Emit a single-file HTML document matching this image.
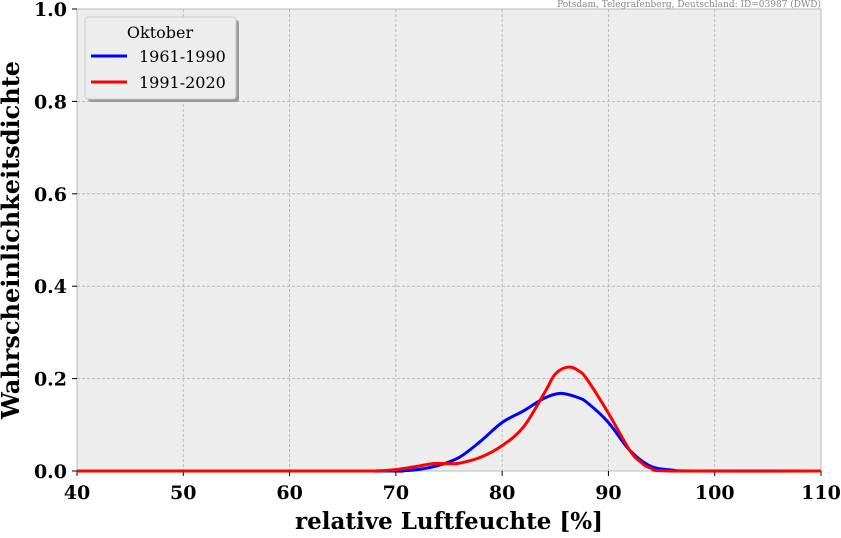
<!DOCTYPE html>
<html><head><meta charset="utf-8"><style>
body{margin:0;background:#fff;}
svg{font-family:"DejaVu Serif","Liberation Serif",serif;}
</style></head><body>
<svg id="chart" width="841" height="533">
<rect x="77" y="9" width="744" height="462" fill="#ededed" stroke="#bbb"/>
<g id="grid"></g><g id="ticks"></g><g id="series"></g>
<text x="821" y="7" font-size="9" fill="#888" text-anchor="end">Potsdam, Telegrafenberg, Deutschland: ID=03987 (DWD)</text>
<text x="449" y="529" font-size="23" font-weight="bold" text-anchor="middle">relative Luftfeuchte [%]</text>
<text transform="translate(19,240) rotate(-90)" font-size="24" font-weight="bold" text-anchor="middle">Wahrscheinlichkeitsdichte</text>
<g>
<rect x="88" y="20" width="151" height="82" rx="3" fill="#999"/>
<rect x="85" y="17" width="151" height="82" rx="3" fill="#ededed" stroke="#ccc"/>
<text x="160" y="38" font-size="16" text-anchor="middle">Oktober</text>
<line x1="91" y1="56" x2="127" y2="56" stroke="#0000ff" stroke-width="3"/>
<text x="139" y="62" font-size="16">1961-1990</text>
<line x1="91" y1="82" x2="127" y2="82" stroke="#ff0000" stroke-width="3"/>
<text x="139" y="88" font-size="16">1991-2020</text>
</g>
</svg>
<script>
const xTicks=[40,50,60,70,80,90,100,110];
const yTicks=[0.0,0.2,0.4,0.6,0.8,1.0];
const blueX=[40,68,70,72,74,76,78,80,82,84,85.5,87,88,90,92,94,96,98,110];
const blueY=[0,0,0,0.003,0.012,0.03,0.065,0.105,0.13,0.158,0.168,0.16,0.148,0.105,0.045,0.01,0.002,0,0];
const redX=[40,66,68,70,72,73.5,75,76,78,80,82,84,85,86.2,87.2,88,90,92,93,94,96,110];
const redY=[0,0,0,0.003,0.01,0.016,0.016,0.017,0.03,0.055,0.095,0.17,0.21,0.225,0.217,0.198,0.125,0.045,0.02,0.006,0,0];
const X=v=>77+(v-40)*744/70, Y=v=>471-v*462;
const NS="http://www.w3.org/2000/svg";
const grid=document.getElementById('grid'),ticks=document.getElementById('ticks'),ser=document.getElementById('series');
function mk(tag,attrs,parent){const e=document.createElementNS(NS,tag);for(const k in attrs)e.setAttribute(k,attrs[k]);parent.appendChild(e);return e;}
xTicks.forEach(t=>{
 if(t>40&&t<110){const g=mk('line',{x1:X(t),x2:X(t),y1:9,y2:471,stroke:'#b0b0b0','stroke-dasharray':'3,2','stroke-width':0.8},grid);
 
 }
 mk('line',{x1:X(t),x2:X(t),y1:471,y2:476,stroke:'#000'},ticks);
 const l=mk('text',{x:X(t),y:499,'font-size':19,'font-weight':'bold','text-anchor':'middle'},ticks);l.textContent=t;
 
 
});
yTicks.forEach(t=>{
 if(t>0&&t<1){const g=mk('line',{x1:77,x2:821,y1:Y(t),y2:Y(t),stroke:'#b0b0b0','stroke-dasharray':'3,2','stroke-width':0.8},grid);
 
 }
 mk('line',{x1:72,x2:77,y1:Y(t),y2:Y(t),stroke:'#000'},ticks);
 const l=mk('text',{x:67,y:Y(t)+7,'font-size':19,'font-weight':'bold','text-anchor':'end'},ticks);l.textContent=t.toFixed(1);
 
 
});
function path(xs,ys){const p=xs.map((x,i)=>[X(x),Y(ys[i])]);let d='M'+p[0][0]+','+p[0][1];
 for(let i=0;i<p.length-1;i++){const p0=p[Math.max(i-1,0)],p1=p[i],p2=p[i+1],p3=p[Math.min(i+2,p.length-1)];
 d+=' C'+(p1[0]+(p2[0]-p0[0])/6)+','+(p1[1]+(p2[1]-p0[1])/6)+' '+(p2[0]-(p3[0]-p1[0])/6)+','+(p2[1]-(p3[1]-p1[1])/6)+' '+p2[0]+','+p2[1];}
 return d;}
const b=mk('path',{d:path(blueX,blueY),fill:'none',stroke:'#0000ff','stroke-width':3,'stroke-linejoin':'round'},ser);


const r=mk('path',{d:path(redX,redY),fill:'none',stroke:'#ff0000','stroke-width':3,'stroke-linejoin':'round'},ser);


</script>
</body></html>
